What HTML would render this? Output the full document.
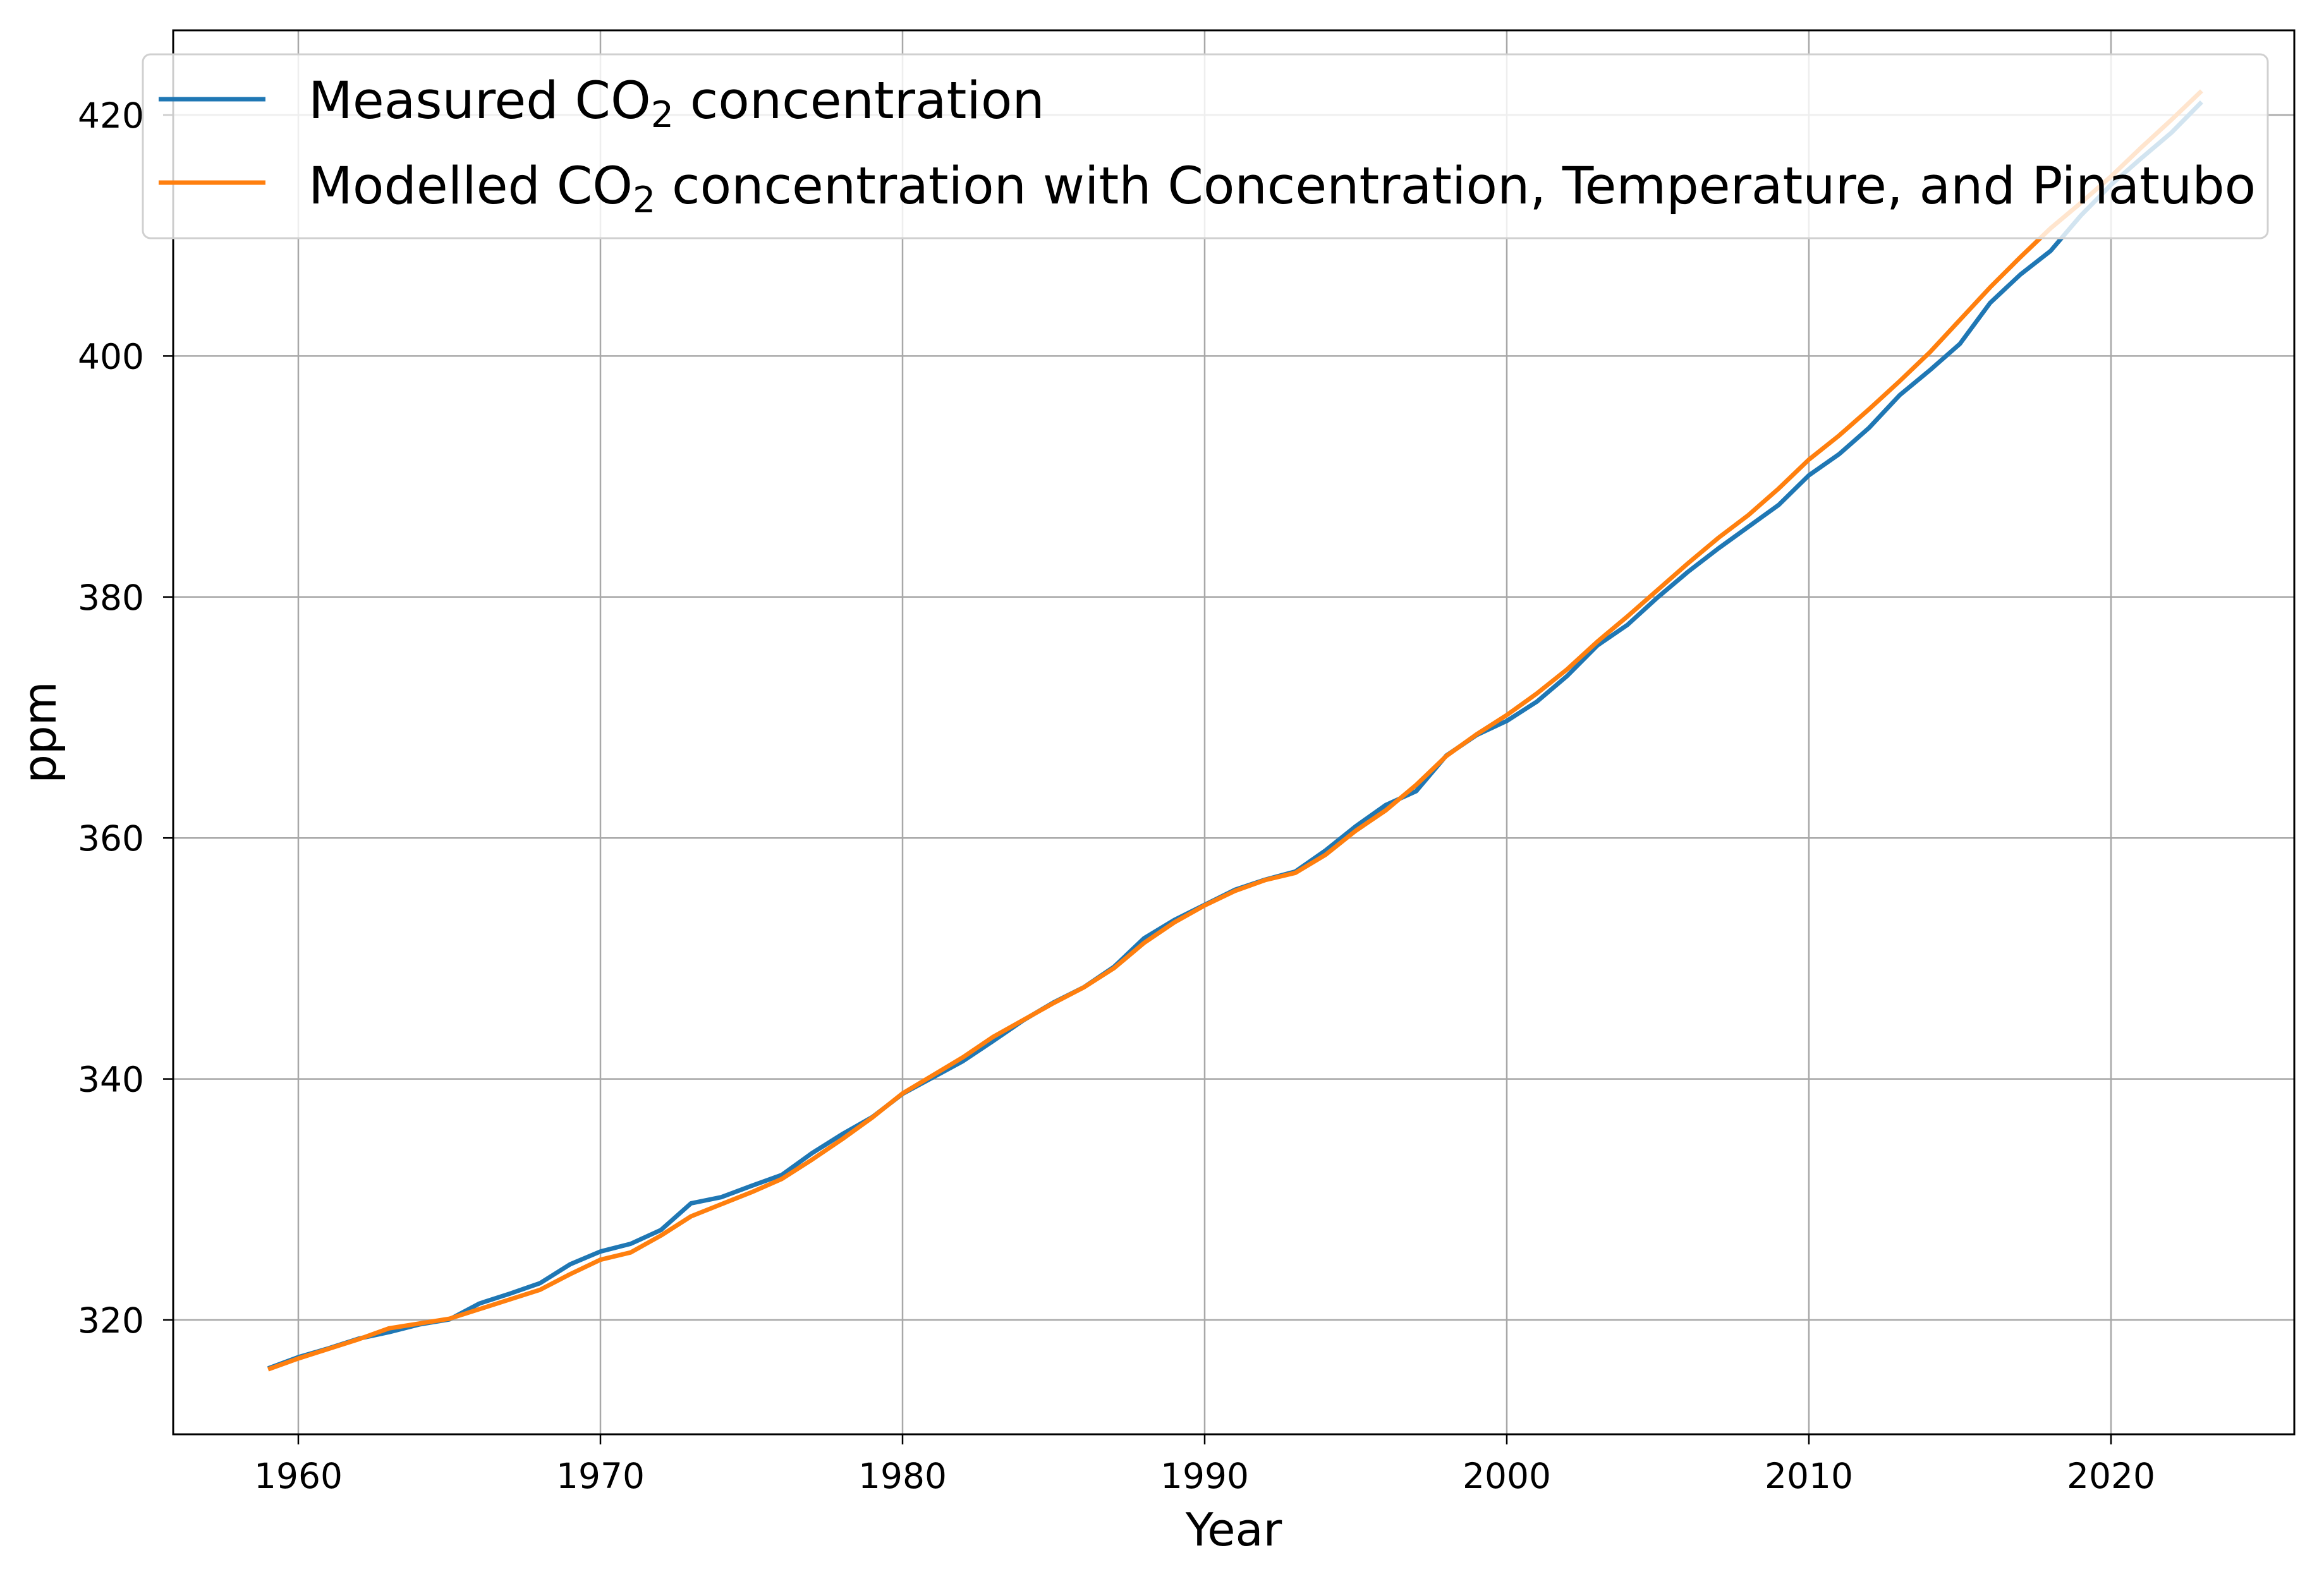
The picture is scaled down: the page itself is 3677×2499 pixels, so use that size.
<!DOCTYPE html>
<html><head><meta charset="utf-8"><style>
html,body{margin:0;padding:0;background:#fff;}
svg{display:block;font-family:"DejaVu Sans","Liberation Sans",sans-serif;}
</style></head><body>
<svg id="chart" width="3677" height="2499" viewBox="0 0 3677 2499" xmlns="http://www.w3.org/2000/svg">
<rect width="3677" height="2499" fill="#fff"/>
<g id="grid"></g>
<g id="series"></g>
<rect x="274" y="48" width="3356" height="2222" fill="none" stroke="#000" stroke-width="3"/>
<g id="ticks"></g>
<text x="1952" y="2446" font-size="72" text-anchor="middle">Year</text>
<text transform="translate(88,1159) rotate(-90)" font-size="72" text-anchor="middle">ppm</text>
<g>
<rect x="226" y="86" width="3362" height="291" rx="12" fill="#fff" fill-opacity="0.8" stroke="#d0d0d0" stroke-width="3"/>
<line x1="251" y1="157" x2="420" y2="157" stroke="#1f77b4" stroke-width="7"/>
<text x="488" y="187" font-size="81">Measured CO<tspan font-size="57" dy="14">2</tspan><tspan dy="-14"> concentration</tspan></text>
<line x1="251" y1="289" x2="420" y2="289" stroke="#ff7f0e" stroke-width="7"/>
<text x="488" y="322" font-size="81">Modelled CO<tspan font-size="57" dy="14">2</tspan><tspan dy="-14"> concentration with Concentration, Temperature, and Pinatubo</tspan></text>
</g>
</svg>
<script>
const years = [];
for (let y = 1959; y <= 2023; y++) years.push(y);
const measured = [315.98,316.91,317.64,318.45,318.99,319.62,320.04,321.37,322.18,323.05,324.62,325.68,326.32,327.46,329.68,330.19,331.13,332.03,333.84,335.41,336.84,338.76,340.12,341.48,343.15,344.87,346.35,347.61,349.31,351.69,353.20,354.45,355.70,356.54,357.21,358.96,360.97,362.74,363.88,366.84,368.54,369.71,371.32,373.45,375.98,377.70,379.98,382.09,384.02,385.83,387.64,390.10,391.85,394.06,396.74,398.81,401.01,404.41,406.76,408.72,411.65,414.21,416.41,418.53,421.08];
const modelled = [315.9,316.8,317.6,318.4,319.3,319.7,320.1,320.9,321.7,322.5,323.8,325.0,325.6,327.0,328.6,329.6,330.6,331.7,333.3,335.0,336.8,338.8,340.3,341.8,343.5,344.9,346.3,347.6,349.2,351.3,353.0,354.4,355.6,356.5,357.1,358.6,360.6,362.3,364.4,366.8,368.6,370.2,372.0,374.0,376.3,378.4,380.6,382.8,384.9,386.8,389.0,391.4,393.4,395.6,397.9,400.3,403.0,405.7,408.2,410.6,412.7,414.9,417.3,419.6,422.0];
const xTicks = [1960,1970,1980,1990,2000,2010,2020];
const yTicks = [320,340,360,380,400,420];

const NS = "http://www.w3.org/2000/svg";
const L = 274, R = 3630, T = 48, B = 2270;
function xs(v){ return 472 + (v - 1960) * (3340 - 472) / 60; }
function ys(v){ return 2089 - (v - 320) * (2089 - 182) / 100; }
function mk(tag, attrs, parent){
  const e = document.createElementNS(NS, tag);
  for (const k in attrs) e.setAttribute(k, attrs[k]);
  parent.appendChild(e); return e;
}
const grid = document.getElementById('grid');
const ticks = document.getElementById('ticks');
xTicks.forEach(t => {
  const x = xs(t);
  const g = mk('line', {x1:x, x2:x, y1:T, y2:B, stroke:'#a8a8a8', 'stroke-width':2.5}, grid);
  
  
  const tk = mk('line', {x1:x, x2:x, y1:B, y2:B+16, stroke:'#000', 'stroke-width':2.5}, ticks);
  
  
  const tx = mk('text', {x:x, y:2355, 'font-size':55, 'text-anchor':'middle'}, ticks);
  tx.textContent = t;
  
  
});
yTicks.forEach(t => {
  const y = ys(t);
  const g = mk('line', {x1:L, x2:R, y1:y, y2:y, stroke:'#a8a8a8', 'stroke-width':2.5}, grid);
  
  
  const tk = mk('line', {x1:L-16, x2:L, y1:y, y2:y, stroke:'#000', 'stroke-width':2.5}, ticks);
  
  
  const tx = mk('text', {x:228, y:y+20, 'font-size':55, 'text-anchor':'end'}, ticks);
  tx.textContent = t;
  
  
});
const series = document.getElementById('series');
function pts(arr){ return arr.map((v,i) => xs(years[i]).toFixed(1) + ',' + ys(v).toFixed(1)).join(' '); }
const l1 = mk('polyline', {points:pts(measured), fill:'none', stroke:'#1f77b4', 'stroke-width':7, 'stroke-linejoin':'round'}, series);


const l2 = mk('polyline', {points:pts(modelled), fill:'none', stroke:'#ff7f0e', 'stroke-width':7, 'stroke-linejoin':'round'}, series);


</script>
</body></html>
